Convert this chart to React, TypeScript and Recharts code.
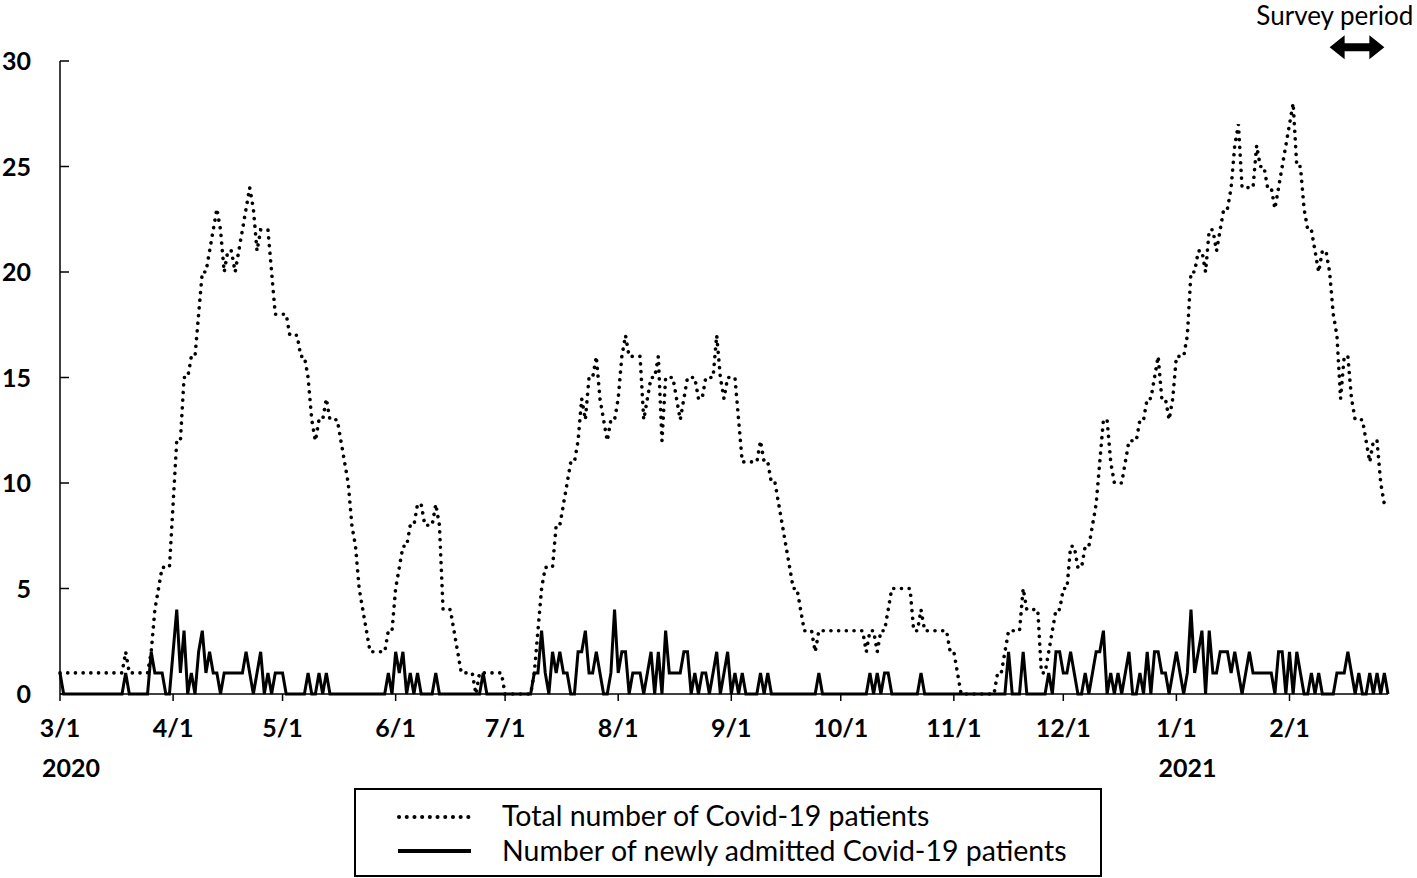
import React from "react";
import { LineChart, Line, XAxis, YAxis, ReferenceLine } from "recharts";

const FONT = "Lato, 'Liberation Sans', sans-serif";
const PLOT_LEFT = 60;
const AXIS_Y = 694;

// day 0 = 3/1/2020
const monthStartDays = [0, 31, 61, 92, 122, 153, 184, 214, 245, 275, 306, 337];
const monthLabels = ["3/1", "4/1", "5/1", "6/1", "7/1", "8/1", "9/1", "10/1", "11/1", "12/1", "1/1", "2/1"];
const yearStartDays = [0, 306];
const yearLabels = ["2020", "2021"];
const yTicks = [0, 5, 10, 15, 20, 25, 30];
const surveyStart = 348;
const surveyEnd = 363;

// total number of Covid-19 patients, by month
const totalMar = [1, 1, 1, 1, 1, 1, 1, 1, 1, 1, 1, 1, 1, 1, 1, 1, 1, 1, 2, 1, 1, 1, 1, 1, 1, 2, 4, 5, 6, 6, 6];
const totalApr = [9, 12, 12, 15, 15, 16, 16, 18, 20, 20, 21, 22, 23, 22, 20, 21, 21, 20, 21, 22, 23, 24, 23, 21, 22, 22, 22, 20, 18, 18];
const totalMay = [18, 18, 17, 17, 17, 16, 16, 15, 13, 12, 13, 13, 14, 13, 13, 13, 12, 11, 10, 8, 7, 5, 4, 3, 2, 2, 2, 2, 2, 3, 3];
const totalJun = [5, 6, 7, 7, 8, 8, 9, 9, 8, 8, 8, 9, 8, 4, 4, 4, 3, 2, 1, 1, 1, 1, 0, 1, 1, 1, 1, 1, 1, 1];
const totalJul = [0, 0, 0, 0, 0, 0, 0, 0, 1, 3, 5, 6, 6, 6, 8, 8, 9, 10, 11, 11, 12, 14, 13, 15, 15, 16, 14, 13, 12, 13, 13];
const totalAug = [14, 16, 17, 16, 16, 16, 16, 13, 14, 15, 15, 16, 12, 15, 15, 15, 14, 13, 14, 15, 15, 15, 14, 14, 15, 15, 15, 17, 15, 14, 15];
const totalSep = [15, 15, 13, 11, 11, 11, 11, 11, 12, 11, 11, 10, 10, 9, 8, 7, 6, 5, 5, 4, 3, 3, 3, 2, 3, 3, 3, 3, 3, 3];
const totalOct = [3, 3, 3, 3, 3, 3, 3, 2, 3, 3, 2, 3, 3, 4, 5, 5, 5, 5, 5, 5, 3, 3, 4, 3, 3, 3, 3, 3, 3, 3, 2];
const totalNov = [2, 1, 0, 0, 0, 0, 0, 0, 0, 0, 0, 0, 1, 1, 2, 3, 3, 3, 3, 5, 4, 4, 4, 4, 1, 1, 2, 3, 4, 4];
const totalDec = [5, 5, 7, 7, 6, 6, 7, 7, 8, 9, 11, 13, 13, 11, 10, 10, 10, 11, 12, 12, 12, 13, 13, 14, 14, 15, 16, 14, 14, 13, 14];
const totalJan = [16, 16, 16, 17, 20, 20, 21, 21, 20, 22, 22, 21, 22, 23, 23, 24, 26, 27, 24, 24, 24, 24, 26, 25, 25, 24, 24, 23, 24, 25, 26];
const totalFeb = [27, 28, 25, 25, 23, 22, 22, 21, 20, 21, 21, 20, 18, 17, 14, 16, 16, 14, 13, 13, 13, 12, 11, 12, 12, 10, 9, 9];

// number of newly admitted Covid-19 patients, by month
const admitMar = [1, 0, 0, 0, 0, 0, 0, 0, 0, 0, 0, 0, 0, 0, 0, 0, 0, 0, 1, 0, 0, 0, 0, 0, 0, 2, 1, 1, 1, 0, 0];
const admitApr = [2, 4, 1, 3, 0, 1, 0, 2, 3, 1, 2, 1, 1, 0, 1, 1, 1, 1, 1, 1, 2, 1, 0, 1, 2, 0, 1, 0, 1, 1];
const admitMay = [1, 0, 0, 0, 0, 0, 0, 1, 0, 0, 1, 0, 1, 0, 0, 0, 0, 0, 0, 0, 0, 0, 0, 0, 0, 0, 0, 0, 0, 1, 0];
const admitJun = [2, 1, 2, 0, 1, 0, 1, 0, 0, 0, 0, 1, 0, 0, 0, 0, 0, 0, 0, 0, 0, 0, 0, 0, 1, 0, 0, 0, 0, 0];
const admitJul = [0, 0, 0, 0, 0, 0, 0, 0, 1, 1, 3, 1, 0, 2, 1, 2, 1, 1, 0, 0, 2, 2, 3, 1, 1, 2, 1, 0, 0, 1, 4];
const admitAug = [1, 2, 2, 0, 1, 1, 1, 0, 1, 2, 0, 2, 0, 3, 1, 1, 1, 1, 2, 2, 0, 1, 0, 1, 1, 0, 1, 2, 0, 1, 2];
const admitSep = [0, 1, 0, 1, 0, 0, 0, 0, 1, 0, 1, 0, 0, 0, 0, 0, 0, 0, 0, 0, 0, 0, 0, 0, 1, 0, 0, 0, 0, 0];
const admitOct = [0, 0, 0, 0, 0, 0, 0, 0, 1, 0, 1, 0, 1, 1, 0, 0, 0, 0, 0, 0, 0, 0, 1, 0, 0, 0, 0, 0, 0, 0, 0];
const admitNov = [0, 0, 0, 0, 0, 0, 0, 0, 0, 0, 0, 0, 0, 0, 0, 2, 0, 0, 0, 2, 0, 0, 0, 0, 0, 0, 1, 0, 2, 2];
const admitDec = [1, 1, 2, 1, 0, 0, 1, 0, 1, 2, 2, 3, 0, 1, 0, 1, 0, 1, 2, 0, 0, 1, 0, 2, 0, 2, 2, 1, 1, 0, 1];
const admitJan = [2, 1, 0, 1, 4, 1, 2, 3, 0, 3, 1, 1, 2, 2, 2, 1, 2, 1, 0, 1, 2, 1, 1, 1, 1, 1, 1, 0, 2, 2, 0];
const admitFeb = [2, 0, 2, 1, 0, 0, 1, 0, 1, 0, 0, 0, 0, 1, 1, 1, 2, 1, 0, 1, 0, 0, 1, 0, 1, 0, 1, 0];

const total = [
  ...totalMar, ...totalApr, ...totalMay, ...totalJun, ...totalJul, ...totalAug,
  ...totalSep, ...totalOct, ...totalNov, ...totalDec, ...totalJan, ...totalFeb,
];
const admitted = [
  ...admitMar, ...admitApr, ...admitMay, ...admitJun, ...admitJul, ...admitAug,
  ...admitSep, ...admitOct, ...admitNov, ...admitDec, ...admitJan, ...admitFeb,
];

const chartData = total.map((v, i) => ({ day: i, total: v, admitted: admitted[i] }));

const DOTS = "0.1 7.6";

function YTick(props: any) {
  const { y, payload } = props;
  return (
    <g>
      <line x1={PLOT_LEFT} x2={PLOT_LEFT + 9} y1={y} y2={y} stroke="#000" strokeWidth={1.5} />
      <text x={31} y={y} dy={9} textAnchor="end" fontFamily={FONT} fontWeight={700} fontSize={25} fill="#000">
        {payload.value}
      </text>
    </g>
  );
}

function XTick(props: any) {
  const { x, payload } = props;
  const m = monthStartDays.indexOf(payload.value);
  const yr = yearStartDays.indexOf(payload.value);
  return (
    <g>
      <line x1={x} x2={x} y1={AXIS_Y} y2={AXIS_Y + 7} stroke="#000" strokeWidth={1.5} />
      <text x={x} y={737} textAnchor="middle" fontFamily={FONT} fontWeight={700} fontSize={25} fill="#000">
        {monthLabels[m]}
      </text>
      {yr >= 0 && (
        <text x={x + 11} y={777} textAnchor="middle" fontFamily={FONT} fontWeight={700} fontSize={25} fill="#000">
          {yearLabels[yr]}
        </text>
      )}
    </g>
  );
}

function SurveyArrow(props: any) {
  const { x1, x2, y1 } = props;
  const head = 15;
  const half = 12;
  const shaft = 4;
  const pts = [
    [x1, y1], [x1 + head, y1 - half], [x1 + head, y1 - shaft], [x2 - head, y1 - shaft],
    [x2 - head, y1 - half], [x2, y1], [x2 - head, y1 + half], [x2 - head, y1 + shaft],
    [x1 + head, y1 + shaft], [x1 + head, y1 + half],
  ]
    .map((p) => p.join(","))
    .join(" ");
  return (
    <g>
      <polygon points={pts} fill="#000" />
      <text x={x2 + 29} y={y1 - 22} textAnchor="end" fontFamily={FONT} fontSize={26} fill="#000">
        Survey period
      </text>
    </g>
  );
}

function LegendBox() {
  return (
    <svg width={748} height={89} style={{ position: "absolute", left: 354, top: 788 }}>
      <rect x={1} y={1} width={746} height={87} fill="#fff" stroke="#000" strokeWidth={2} />
      <line x1={45} x2={116} y1={29} y2={29} stroke="#000" strokeWidth={4} strokeDasharray={DOTS} strokeLinecap="round" />
      <line x1={44} x2={117} y1={63} y2={63} stroke="#000" strokeWidth={4} />
      <text x={148} y={38} fontFamily={FONT} fontSize={28.5} fill="#000">
        Total number of Covid-19 patients
      </text>
      <text x={148} y={73} fontFamily={FONT} fontSize={28.5} fill="#000">
        Number of newly admitted Covid-19 patients
      </text>
    </svg>
  );
}

export default function App() {
  return (
    <div style={{ position: "absolute", left: 0, top: 0, width: 1417, height: 878, background: "#fff" }}>
      <LineChart width={1417} height={878} data={chartData} margin={{ top: 61, right: 29, left: 10, bottom: 94 }}>
        <XAxis
          type="number"
          dataKey="day"
          domain={[0, 364]}
          ticks={monthStartDays}
          interval={0}
          height={90}
          axisLine={{ stroke: "#000", strokeWidth: 1.5 }}
          tickLine={false}
          tick={<XTick />}
        />
        <YAxis
          domain={[0, 30]}
          ticks={yTicks}
          interval={0}
          width={50}
          axisLine={{ stroke: "#000", strokeWidth: 1.5 }}
          tickLine={false}
          tick={<YTick />}
        />
        <Line
          type="linear"
          dataKey="total"
          stroke="#000"
          strokeWidth={3.6}
          strokeDasharray={DOTS}
          strokeLinecap="round"
          dot={false}
          activeDot={false}
          isAnimationActive={false}
        />
        <Line
          type="linear"
          dataKey="admitted"
          stroke="#000"
          strokeWidth={3}
          dot={false}
          activeDot={false}
          isAnimationActive={false}
        />
        <ReferenceLine
          segment={[
            { x: surveyStart, y: 30.65 },
            { x: surveyEnd, y: 30.65 },
          ]}
          ifOverflow="visible"
          shape={(p: any) => <SurveyArrow {...p} />}
        />
      </LineChart>
      <LegendBox />
    </div>
  );
}
